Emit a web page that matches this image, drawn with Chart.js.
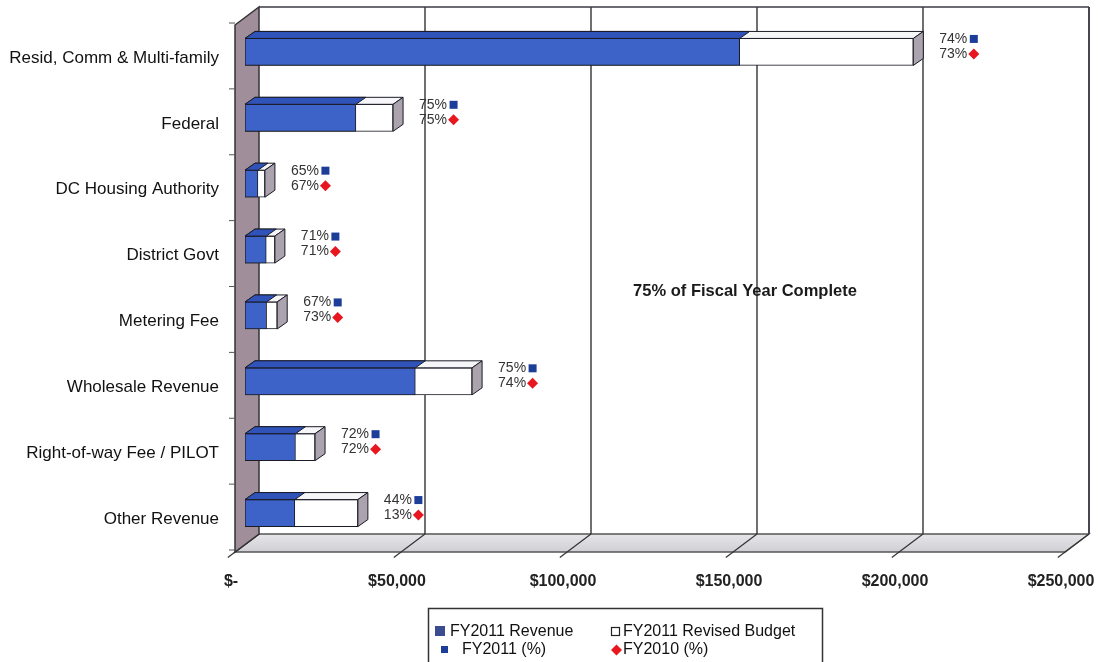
<!DOCTYPE html>
<html>
<head>
<meta charset="utf-8">
<title>FY2011 Revenue by Category</title>
<script src="https://cdn.jsdelivr.net/npm/chart.js@4.4.1/dist/chart.umd.min.js"></script>
<style>
  html, body { margin: 0; padding: 0; background: #fff; }
  canvas { display: block; }
</style>
</head>
<body>
<canvas id="revenueChart" width="1099" height="662"></canvas>
<script>
const categories = ["Resid, Comm & Multi-family", "Federal", "DC Housing Authority", "District Govt",
  "Metering Fee", "Wholesale Revenue", "Right-of-way Fee / PILOT", "Other Revenue"];
const revenue2011 = [149000, 33400, 3900, 6400, 6500, 51300, 15200, 15000];
const budget2011 = [201300, 44600, 6000, 9000, 9700, 68400, 21100, 34000];
const pct2011 = [74, 75, 65, 71, 67, 75, 72, 44];
const pct2010 = [73, 75, 67, 71, 73, 74, 72, 13];
const xTicks = [0, 50000, 100000, 150000, 200000, 250000];
const xTickLabels = ["$-", "$50,000", "$100,000", "$150,000", "$200,000", "$250,000"];
const seriesNames = ["FY2011 Revenue", "FY2011 Revised Budget", "FY2011 (%)", "FY2010 (%)"];
const fiscalNote = "75% of Fiscal Year Complete";

const FONT = "'Liberation Sans', Arial, sans-serif";
// offsets of the front and back planes from the plane the bars sit on
const FRONT = { dx: -10, dy: 6 };
const BACK = { dx: 14, dy: -12 };
const BAR_DEPTH = { dx: 10, dy: -7 };

function line(ctx, x1, y1, x2, y2) {
  ctx.beginPath();
  ctx.moveTo(x1, y1);
  ctx.lineTo(x2, y2);
  ctx.stroke();
}

function poly(ctx, pts, fill, stroke) {
  ctx.beginPath();
  ctx.moveTo(pts[0][0], pts[0][1]);
  for (let i = 1; i < pts.length; i++) ctx.lineTo(pts[i][0], pts[i][1]);
  ctx.closePath();
  if (fill) { ctx.fillStyle = fill; ctx.fill(); }
  if (stroke) { ctx.strokeStyle = stroke; ctx.stroke(); }
}

// no extra room for overhanging tick labels, the plot box is placed by hand
function noScalePadding(s) {
  s.paddingLeft = 0;
  s.paddingRight = 0;
  s.paddingTop = 0;
  s.paddingBottom = 0;
}

// back wall, side wall and floor behind the bars
const wallsPlugin = {
  id: "walls",
  beforeDatasetsDraw(chart) {
    const { ctx, chartArea: a, scales: { x } } = chart;
    const x0 = x.getPixelForValue(xTicks[0]);
    const x1 = x.getPixelForValue(xTicks[xTicks.length - 1]);
    const fl = x0 + FRONT.dx, fr = x1 + FRONT.dx, ft = a.top + FRONT.dy, fb = a.bottom + FRONT.dy;
    const bl = x0 + BACK.dx, br = x1 + BACK.dx, bt = a.top + BACK.dy, bb = a.bottom + BACK.dy;
    ctx.save();
    ctx.lineWidth = 1.3;

    ctx.fillStyle = "#fff";
    ctx.fillRect(bl, bt, br - bl, bb - bt);

    const g = ctx.createLinearGradient(0, bb, 0, fb);
    g.addColorStop(0, "#e6e6ea");
    g.addColorStop(1, "#cfcfd4");
    poly(ctx, [[fl, fb], [bl, bb], [br, bb], [fr, fb]], g, "#555");

    // vertical gridlines and their floor continuation
    ctx.strokeStyle = "#333";
    xTicks.forEach((v, i) => {
      const px = x.getPixelForValue(v);
      const bx = px + BACK.dx;
      const ex = bx + 1.3 * (FRONT.dx - BACK.dx), ey = bb + 1.3 * (FRONT.dy - BACK.dy);
      if (i > 0) {
        ctx.lineWidth = 1.4;
        line(ctx, bx, bt, bx, bb);
      }
      ctx.lineWidth = 1.2;
      line(ctx, bx, bb, ex, ey);
    });

    ctx.lineWidth = 1.5;
    ctx.strokeStyle = "#3a3a44";
    line(ctx, bl, bt, br, bt);
    line(ctx, br, bt, br, bb);

    poly(ctx, [[fl, ft], [bl, bt], [bl, bb], [fl, fb]], "#a08f9a", "#333");

    // category ticks along the side wall
    ctx.lineWidth = 1;
    ctx.strokeStyle = "#555";
    const step = (a.bottom - a.top) / categories.length;
    for (let i = 0; i <= categories.length; i++) {
      const y = a.top + i * step + FRONT.dy - 2;
      line(ctx, fl - 6, y, fl, y);
    }
    ctx.restore();
  },

  // top face of each bar, plus the end cap on the budget bar
  afterDatasetDraw(chart, args) {
    const { ctx } = chart;
    const isBudget = args.index === 1;
    ctx.save();
    ctx.lineWidth = 1;
    args.meta.data.forEach((bar) => {
      const { x, y, base, height } = bar.getProps(["x", "y", "base", "height"], true);
      const top = y - height / 2, bot = y + height / 2;
      const d = BAR_DEPTH;
      poly(ctx, [[base, top], [base + d.dx, top + d.dy], [x + d.dx, top + d.dy], [x, top]],
        isBudget ? "#f6f6f8" : "#2f53b8", "#1b1b26");
      if (isBudget) {
        poly(ctx, [[x, top], [x + d.dx, top + d.dy], [x + d.dx, bot + d.dy], [x, bot]],
          "#aba3ad", "#1b1b26");
      }
    });
    ctx.restore();
  },

  afterDraw(chart) {
    const { ctx, scales: { x, y } } = chart;
    ctx.save();

    // percent labels with their markers
    ctx.font = "14px " + FONT;
    ctx.textAlign = "right";
    ctx.textBaseline = "middle";
    categories.forEach((c, i) => {
      const cy = y.getPixelForValue(i);
      const mx = x.getPixelForValue(budget2011[i]) + 60;
      const y1 = cy - 13, y2 = cy + 2;
      ctx.fillStyle = "#333";
      ctx.fillText(pct2011[i] + "%", mx - 6, y1);
      ctx.fillText(pct2010[i] + "%", mx - 6, y2);
      ctx.fillStyle = "#1d3e98";
      ctx.fillRect(mx - 3.5, y1 - 4, 8, 8);
      poly(ctx, [[mx + 0.5, y2 - 5.5], [mx + 6, y2], [mx + 0.5, y2 + 5.5], [mx - 5, y2]], "#e8161f");
    });

    // note in the middle of the plot
    ctx.font = "bold 16.5px " + FONT;
    ctx.textAlign = "center";
    ctx.fillStyle = "#1a1a1a";
    ctx.fillText(fiscalNote, 745, 291);

    // legend box
    const lx = 428, ly = 608;
    ctx.lineWidth = 1.5;
    ctx.strokeStyle = "#333";
    ctx.strokeRect(lx + 0.5, ly + 0.5, 394, 70);
    ctx.font = "16px " + FONT;
    ctx.textAlign = "left";
    ctx.fillStyle = "#111";
    ctx.fillText(seriesNames[0], 450, 632);
    ctx.fillText(seriesNames[1], 623, 632);
    ctx.fillText(seriesNames[2], 462, 650);
    ctx.fillText(seriesNames[3], 623, 650);
    ctx.fillStyle = "#3b4d8f";
    ctx.fillRect(435, 626, 10, 10);
    ctx.lineWidth = 1.2;
    ctx.strokeStyle = "#222";
    ctx.strokeRect(611.5, 627.5, 8, 8);
    ctx.fillStyle = "#1d3e98";
    ctx.fillRect(441, 646, 7, 7);
    poly(ctx, [[616.5, 644.5], [622, 650], [616.5, 655.5], [611, 650]], "#e8161f");
    ctx.restore();
  }
};

const ctx = document.getElementById("revenueChart").getContext("2d");
const revenueChart = new Chart(ctx, {
  type: "bar",
  data: {
    labels: categories,
    datasets: [
      {
        label: seriesNames[0],
        data: revenue2011,
        backgroundColor: "#3d63c9",
        borderColor: "#1b1b26",
        borderWidth: 1,
        borderSkipped: false,
        barThickness: 27,
        grouped: false,
      },
      {
        label: seriesNames[1],
        data: budget2011,
        backgroundColor: "#ffffff",
        borderColor: "#1b1b26",
        borderWidth: 1,
        borderSkipped: false,
        barThickness: 27,
        grouped: false,
      },
    ],
  },
  options: {
    indexAxis: "y",
    responsive: false,
    animation: false,
    layout: { padding: { top: 19, right: 24, left: 0, bottom: 0 } },
    plugins: {
      legend: { display: false },
      tooltip: { enabled: false },
    },
    scales: {
      x: {
        min: 0,
        max: 250000,
        afterBuildTicks: (s) => { s.ticks = xTicks.map((v) => ({ value: v })); },
        afterFit: (s) => { s.height = 116; noScalePadding(s); },
        grid: { display: false, drawTicks: false },
        border: { display: false },
        ticks: {
          callback: (v) => xTickLabels[xTicks.indexOf(v)],
          labelOffset: -14,
          padding: 26,
          maxRotation: 0,
          autoSkip: false,
          color: "#222",
          font: { family: FONT, size: 16, weight: "bold" },
        },
      },
      y: {
        afterFit: (s) => { s.width = 245; noScalePadding(s); },
        grid: { display: false, drawTicks: false },
        border: { display: false },
        ticks: {
          padding: 26,
          labelOffset: 6,
          color: "#111",
          font: { family: FONT, size: 17 },
        },
      },
    },
  },
  plugins: [wallsPlugin],
});
</script>
</body>
</html>
